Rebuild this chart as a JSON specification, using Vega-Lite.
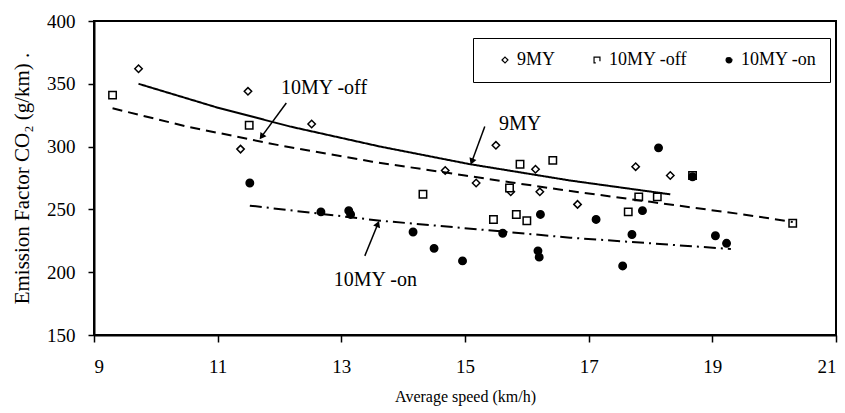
{
  "$schema": "https://vega.github.io/schema/vega-lite/v6.json",
  "width": 742,
  "height": 314,
  "autosize": {"type": "none"},
  "padding": {"left": 94, "top": 21, "right": 9, "bottom": 78},
  "background": "white",
  "config": {
    "font": "Liberation Serif",
    "view": {"stroke": "black", "strokeWidth": 2},
    "axis": {
      "grid": false,
      "domainColor": "black",
      "domainWidth": 2,
      "tickColor": "black",
      "tickWidth": 1.5,
      "labelColor": "black",
      "titleColor": "black",
      "labelFont": "Liberation Serif",
      "titleFont": "Liberation Serif",
      "labelFontSize": 19,
      "titleFontWeight": "normal"
    },
    "legend": {
      "disable": false,
      "labelFont": "Liberation Serif",
      "labelFontSize": 18,
      "labelColor": "black"
    }
  },
  "datasets": {
    "pts": [
      {"speed": 9.72, "ef": 362, "series": "9MY"},
      {"speed": 11.37, "ef": 298, "series": "9MY"},
      {"speed": 11.49, "ef": 344, "series": "9MY"},
      {"speed": 12.52, "ef": 318, "series": "9MY"},
      {"speed": 14.68, "ef": 281, "series": "9MY"},
      {"speed": 15.18, "ef": 271, "series": "9MY"},
      {"speed": 15.5, "ef": 301, "series": "9MY"},
      {"speed": 15.74, "ef": 264, "series": "9MY"},
      {"speed": 16.14, "ef": 282, "series": "9MY"},
      {"speed": 16.21, "ef": 264, "series": "9MY"},
      {"speed": 16.82, "ef": 254, "series": "9MY"},
      {"speed": 17.76, "ef": 284, "series": "9MY"},
      {"speed": 18.32, "ef": 277, "series": "9MY"},
      {"speed": 9.3, "ef": 341, "series": "10MY -off"},
      {"speed": 11.51, "ef": 317, "series": "10MY -off"},
      {"speed": 14.32, "ef": 262, "series": "10MY -off"},
      {"speed": 15.46, "ef": 242, "series": "10MY -off"},
      {"speed": 15.72, "ef": 267, "series": "10MY -off"},
      {"speed": 15.83, "ef": 246, "series": "10MY -off"},
      {"speed": 15.89, "ef": 286, "series": "10MY -off"},
      {"speed": 16.0, "ef": 241, "series": "10MY -off"},
      {"speed": 16.42, "ef": 289, "series": "10MY -off"},
      {"speed": 17.64, "ef": 248, "series": "10MY -off"},
      {"speed": 17.81, "ef": 260, "series": "10MY -off"},
      {"speed": 18.11, "ef": 260, "series": "10MY -off"},
      {"speed": 18.68, "ef": 277, "series": "10MY -off"},
      {"speed": 20.3, "ef": 239, "series": "10MY -off"},
      {"speed": 11.52, "ef": 271, "series": "10MY -on"},
      {"speed": 12.67, "ef": 248, "series": "10MY -on"},
      {"speed": 13.12, "ef": 249, "series": "10MY -on"},
      {"speed": 13.15, "ef": 246, "series": "10MY -on"},
      {"speed": 14.16, "ef": 232, "series": "10MY -on"},
      {"speed": 14.5, "ef": 219, "series": "10MY -on"},
      {"speed": 14.96, "ef": 209, "series": "10MY -on"},
      {"speed": 15.61, "ef": 231, "series": "10MY -on"},
      {"speed": 16.18, "ef": 217, "series": "10MY -on"},
      {"speed": 16.2, "ef": 212, "series": "10MY -on"},
      {"speed": 16.22, "ef": 246, "series": "10MY -on"},
      {"speed": 17.12, "ef": 242, "series": "10MY -on"},
      {"speed": 17.55, "ef": 205, "series": "10MY -on"},
      {"speed": 17.7, "ef": 230, "series": "10MY -on"},
      {"speed": 17.87, "ef": 249, "series": "10MY -on"},
      {"speed": 18.13, "ef": 299, "series": "10MY -on"},
      {"speed": 18.68, "ef": 276, "series": "10MY -on"},
      {"speed": 19.05, "ef": 229, "series": "10MY -on"},
      {"speed": 19.23, "ef": 223, "series": "10MY -on"}
    ],
    "fits": [
      {"speed": 9.72, "ef": 350, "fit": "9MY"},
      {"speed": 11.0, "ef": 331, "fit": "9MY"},
      {"speed": 12.17, "ef": 316, "fit": "9MY"},
      {"speed": 13.63, "ef": 300, "fit": "9MY"},
      {"speed": 15.08, "ef": 286, "fit": "9MY"},
      {"speed": 16.7, "ef": 273, "fit": "9MY"},
      {"speed": 18.32, "ef": 262, "fit": "9MY"},
      {"speed": 9.3, "ef": 330.5, "fit": "10MY -off"},
      {"speed": 10.5, "ef": 316, "fit": "10MY -off"},
      {"speed": 12.0, "ef": 301, "fit": "10MY -off"},
      {"speed": 13.5, "ef": 288, "fit": "10MY -off"},
      {"speed": 15.0, "ef": 277, "fit": "10MY -off"},
      {"speed": 16.5, "ef": 266, "fit": "10MY -off"},
      {"speed": 18.0, "ef": 256, "fit": "10MY -off"},
      {"speed": 19.5, "ef": 246, "fit": "10MY -off"},
      {"speed": 20.3, "ef": 240, "fit": "10MY -off"},
      {"speed": 11.52, "ef": 253, "fit": "10MY -on"},
      {"speed": 12.66, "ef": 246.5, "fit": "10MY -on"},
      {"speed": 13.63, "ef": 241, "fit": "10MY -on"},
      {"speed": 15.24, "ef": 234, "fit": "10MY -on"},
      {"speed": 16.7, "ef": 227.5, "fit": "10MY -on"},
      {"speed": 18.0, "ef": 223, "fit": "10MY -on"},
      {"speed": 19.3, "ef": 218.5, "fit": "10MY -on"}
    ],
    "notes": [
      {"label": "10MY -off", "tx": 12.72, "ty": 346.7, "x1": 12.11, "y1": 334.7, "x2": 11.71, "y2": 307.9},
      {"label": "9MY", "tx": 15.89, "ty": 318, "x1": 15.32, "y1": 316, "x2": 15.11, "y2": 288},
      {"label": "10MY -on", "tx": 13.55, "ty": 193.8, "x1": 13.38, "y1": 213, "x2": 13.59, "y2": 238.4}
    ]
  },
  "layer": [
    {
      "data": {"name": "pts"},
      "mark": {"type": "point", "filled": true, "strokeWidth": 1.5, "size": 55, "opacity": 1},
      "encoding": {
        "x": {"field": "speed", "type": "quantitative", "scale": {"domain": [9, 21], "nice": false, "zero": false},
          "axis": {"values": [9, 11, 13, 15, 17, 19, 21], "format": "d", "tickSize": 7, "labelPadding": 15, "title": "Average speed (km/h)", "titleFontSize": 16, "titlePadding": 12}},
        "y": {"field": "ef", "type": "quantitative", "scale": {"domain": [150, 400], "nice": false, "zero": false},
          "axis": {"values": [150, 200, 250, 300, 350, 400], "format": "d", "tickSize": 6, "labelPadding": 13, "title": "Emission Factor CO₂ (g/km) .", "titleFontSize": 21, "titlePadding": 14}},
        "shape": {"field": "series", "type": "nominal", "scale": {"domain": ["9MY", "10MY -off", "10MY -on"], "range": ["diamond", "square", "circle"]},
          "legend": {"disable": false, "title": null, "orient": "none", "legendX": 379, "legendY": 17, "direction": "horizontal", "strokeColor": "black", "fillColor": "white", "padding": 13, "symbolOffset": 10, "labelOffset": 3, "columnPadding": 22, "symbolSize": 35, "symbolStrokeWidth": 1.2, "symbolOpacity": 1}},
        "color": {"field": "series", "type": "nominal", "scale": {"domain": ["9MY", "10MY -off", "10MY -on"], "range": ["white", "white", "black"]},
          "legend": {"disable": false, "title": null, "orient": "none", "legendX": 379, "legendY": 17, "direction": "horizontal", "strokeColor": "black", "fillColor": "white", "padding": 13, "symbolOffset": 10, "labelOffset": 3, "columnPadding": 22, "symbolSize": 35, "symbolStrokeWidth": 1.2, "symbolOpacity": 1}},
        "stroke": {"field": "series", "type": "nominal", "scale": {"domain": ["9MY", "10MY -off", "10MY -on"], "range": ["black", "black", "black"]},
          "legend": {"disable": false, "title": null, "orient": "none", "legendX": 379, "legendY": 17, "direction": "horizontal", "strokeColor": "black", "fillColor": "white", "padding": 13, "symbolOffset": 10, "labelOffset": 3, "columnPadding": 22, "symbolSize": 35, "symbolStrokeWidth": 1.2, "symbolOpacity": 1}}
      }
    },
    {
      "data": {"name": "fits"},
      "mark": {"type": "line", "color": "black", "strokeWidth": 2},
      "encoding": {
        "x": {"field": "speed", "type": "quantitative"},
        "y": {"field": "ef", "type": "quantitative"},
        "detail": {"field": "fit"},
        "strokeDash": {"field": "fit", "type": "nominal", "scale": {"domain": ["9MY", "10MY -off", "10MY -on"], "range": [[1, 0], [10, 6], [12, 5, 2, 5]]}, "legend": null}
      }
    },
    {
      "data": {"name": "notes"},
      "mark": {"type": "rule", "color": "black", "strokeWidth": 1.5},
      "encoding": {
        "x": {"field": "x1", "type": "quantitative"},
        "y": {"field": "y1", "type": "quantitative"},
        "x2": {"field": "x2"},
        "y2": {"field": "y2"}
      }
    },
    {
      "data": {"name": "notes"},
      "transform": [{"filter": "datum.label === '10MY -off'"}],
      "mark": {"type": "point", "shape": "triangle-up", "filled": true, "color": "black", "size": 55, "angle": 216, "opacity": 1},
      "encoding": {"x": {"field": "x2", "type": "quantitative"}, "y": {"field": "y2", "type": "quantitative"}}
    },
    {
      "data": {"name": "notes"},
      "transform": [{"filter": "datum.label === '9MY'"}],
      "mark": {"type": "point", "shape": "triangle-up", "filled": true, "color": "black", "size": 55, "angle": 201, "opacity": 1},
      "encoding": {"x": {"field": "x2", "type": "quantitative"}, "y": {"field": "y2", "type": "quantitative"}}
    },
    {
      "data": {"name": "notes"},
      "transform": [{"filter": "datum.label === '10MY -on'"}],
      "mark": {"type": "point", "shape": "triangle-up", "filled": true, "color": "black", "size": 55, "angle": 22, "opacity": 1},
      "encoding": {"x": {"field": "x2", "type": "quantitative"}, "y": {"field": "y2", "type": "quantitative"}}
    },
    {
      "data": {"name": "notes"},
      "mark": {"type": "text", "font": "Liberation Serif", "fontSize": 20, "color": "black", "align": "center", "baseline": "middle"},
      "encoding": {
        "x": {"field": "tx", "type": "quantitative"},
        "y": {"field": "ty", "type": "quantitative"},
        "text": {"field": "label"}
      }
    }
  ]
}
